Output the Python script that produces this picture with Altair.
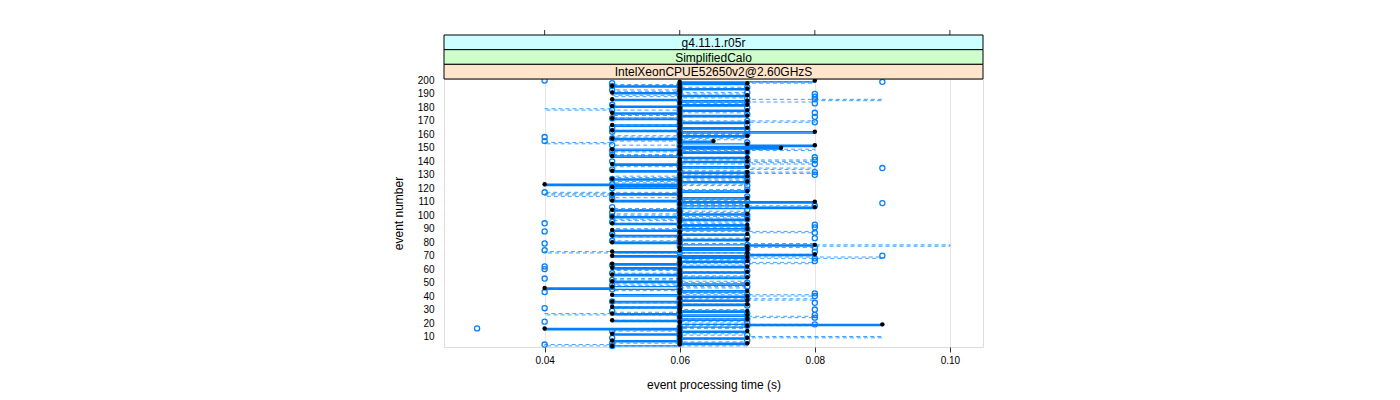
import altair as alt
import pandas as pd

# ---------------- data (times in milliseconds) ----------------
events = list(range(3, 201))

circle_ms = [
    50, 40, 50, 60, 70, 60, 50, 60, 70, 60,
    60, 50, 60, 30, 60, 70, 80, 70, 40, 60,
    70, 80, 60, 80, 70, 60, 50, 80, 40, 60,
    70, 60, 80, 50, 60, 70, 60, 80, 70, 80,
    40, 60, 50, 60, 70, 50, 60, 70, 60, 50,
    40, 60, 70, 60, 50, 60, 70, 40, 60, 40,
    50, 70, 60, 80, 70, 80, 60, 90, 70, 60,
    80, 40, 70, 80, 60, 70, 40, 60, 50, 60,
    80, 70, 60, 50, 80, 40, 60, 70, 80, 60,
    80, 40, 50, 60, 70, 60, 50, 70, 60, 50,
    60, 70, 60, 50, 80, 60, 90, 70, 60, 50,
    60, 70, 50, 60, 40, 60, 70, 50, 60, 70,
    50, 60, 70, 60, 50, 70, 60, 80, 70, 80,
    60, 50, 90, 60, 70, 80, 60, 50, 80, 70,
    80, 60, 50, 60, 70, 50, 60, 70, 60, 50,
    60, 70, 40, 60, 50, 40, 60, 70, 60, 50,
    60, 70, 50, 60, 70, 60, 80, 70, 60, 50,
    80, 60, 70, 80, 60, 50, 60, 70, 60, 50,
    80, 70, 60, 80, 70, 80, 60, 80, 70, 60,
    50, 60, 70, 50, 60, 50, 90, 40,
]

dashed_ms = [
    70, 40, 50, 70, 60, 60, 70, 90, 70, 60,
    70, 60, 50, 60, 70, 60, 80, 60, 70, 50,
    60, 70, 80, 60, 40, 50, 60, 70, 60, 50,
    60, 70, 60, 50, 60, 80, 60, 70, 80, 60,
    70, 60, 50, 60, 70, 60, 50, 60, 70, 60,
    50, 60, 70, 60, 50, 70, 60, 50, 60, 60,
    70, 60, 80, 70, 60, 70, 90, 60, 80, 70,
    40, 60, 70, 60, 80, 100, 80, 60, 50, 60,
    70, 60, 50, 60, 70, 80, 60, 50, 60, 70,
    60, 50, 70, 60, 50, 60, 70, 60, 50, 60,
    70, 60, 50, 60, 80, 60, 70, 60, 50, 70,
    60, 50, 40, 50, 40, 60, 70, 60, 50, 60,
    70, 60, 50, 60, 70, 60, 50, 70, 60, 80,
    60, 70, 80, 60, 50, 60, 80, 70, 80, 60,
    70, 60, 50, 60, 70, 50, 80, 60, 70, 60,
    50, 40, 50, 60, 70, 60, 50, 60, 70, 60,
    50, 60, 70, 60, 50, 60, 70, 80, 60, 50,
    60, 70, 50, 60, 70, 60, 40, 50, 60, 70,
    70, 60, 80, 90, 70, 60, 50, 60, 70, 60,
    50, 60, 70, 60, 50, 60, 80, 70,
]

black_ms = [
    50, 60, 70, 60, 50, 60, 70, 60, 60, 50,
    60, 70, 60, 40, 60, 70, 90, 60, 60, 50,
    70, 60, 60, 70, 50, 60, 70, 60, 60, 50,
    60, 70, 60, 50, 70, 60, 60, 70, 50, 60,
    60, 70, 60, 40, 50, 60, 70, 60, 50, 60,
    60, 70, 60, 50, 60, 70, 60, 60, 50, 70,
    60, 50, 60, 70, 60, 60, 70, 50, 80, 70,
    50, 60, 70, 60, 70, 80, 60, 50, 60, 70,
    60, 60, 50, 70, 60, 60, 50, 70, 60, 60,
    70, 50, 60, 60, 70, 60, 50, 60, 70, 60,
    60, 50, 60, 80, 70, 60, 60, 80, 50, 60,
    70, 60, 60, 50, 60, 70, 60, 60, 50, 60,
    40, 60, 70, 60, 50, 60, 70, 60, 60, 70,
    50, 60, 60, 70, 60, 50, 60, 70, 60, 60,
    70, 50, 60, 60, 70, 60, 50, 75, 60, 80,
    70, 60, 65, 60, 50, 60, 70, 60, 60, 80,
    50, 60, 70, 60, 50, 60, 70, 60, 60, 50,
    60, 70, 60, 50, 60, 70, 60, 60, 50, 70,
    60, 60, 70, 50, 60, 60, 70, 60, 50, 60,
    60, 70, 60, 50, 60, 70, 60, 80,
]

x_ticks = [0.04, 0.06, 0.08, 0.10]
y_ticks = list(range(10, 201, 10))
strip_labels = ["g4.11.1.r05r", "SimplifiedCalo", "IntelXeonCPUE52650v2@2.60GHzS"]
strip_colors = ["#ccffff", "#ccffcc", "#ffe5cc"]

W, H = 539, 268
FONT = "Liberation Sans"
BLUE = "#0080ff"


def frame(ms):
    return pd.DataFrame({"event": events, "time": [v / 1000.0 for v in ms]})


df_circ = frame(circle_ms)
df_dash = frame(dashed_ms)
df_black = frame(black_ms)

x_enc = alt.X(
    "time:Q",
    scale=alt.Scale(domain=[0.0251, 0.1049], nice=False, zero=False),
    axis=alt.Axis(
        values=x_ticks, format=".2f", title="event processing time (s)",
        grid=True, gridColor="#e6e6e6", domain=False,
        tickColor="#333333", tickSize=5, labelPadding=3, titlePadding=14,
        labelFont=FONT, labelFontSize=10, labelColor="black",
        titleFont=FONT, titleFontSize=12, titleFontWeight="normal", titleColor="black",
    ),
)
y_enc = alt.Y(
    "event:Q",
    scale=alt.Scale(domain=[2.2, 201.1], nice=False, zero=False),
    axis=alt.Axis(
        values=y_ticks, format="d", title="event number",
        grid=False, domain=False, ticks=False, labelPadding=10, titlePadding=12,
        labelFont=FONT, labelFontSize=10, labelColor="black",
        titleFont=FONT, titleFontSize=12, titleFontWeight="normal", titleColor="black",
    ),
)
order_enc = alt.Order("event:Q")

dashed = alt.Chart(df_dash).mark_line(
    interpolate="step-after", color=BLUE, strokeWidth=1, strokeDash=[4, 3], opacity=0.75
).encode(x=x_enc, y=y_enc, order=order_enc)

solid = alt.Chart(df_black).mark_line(
    interpolate="step-after", color=BLUE, strokeWidth=1.3
).encode(x=x_enc, y=y_enc, order=order_enc)

circles = alt.Chart(df_circ).mark_point(
    shape="circle", filled=False, color=BLUE, size=26, strokeWidth=1.3, opacity=1
).encode(x=x_enc, y=y_enc)

blacks = alt.Chart(df_black).mark_circle(color="black", size=20, opacity=1).encode(x=x_enc, y=y_enc)

top_ticks = alt.Chart(pd.DataFrame({"time": x_ticks})).mark_rule(
    color="#333333", strokeWidth=1
).encode(x=x_enc, y=alt.value(-49), y2=alt.value(-44))

strip_h = 44.0 / 3
strip_layers = []
for i, (lab, col) in enumerate(zip(strip_labels, strip_colors)):
    top = -44 + i * strip_h
    d = pd.DataFrame({"label": [lab]})
    strip_layers.append(
        alt.Chart(d).mark_rect(fill=col, stroke="black", strokeWidth=1).encode(
            x=alt.value(0), x2=alt.value(W), y=alt.value(top), y2=alt.value(top + strip_h)
        )
    )
    strip_layers.append(
        alt.Chart(d).mark_text(
            align="center", baseline="middle", font=FONT, fontSize=12, color="black"
        ).encode(x=alt.value(W / 2), y=alt.value(top + strip_h / 2 + 0.5), text="label:N")
    )

chart = alt.layer(
    dashed, solid, circles, blacks, top_ticks, *strip_layers
).properties(
    width=W, height=H,
    autosize=alt.AutoSizeParams(type="none"),
    padding={"left": 436, "top": 71, "right": 409, "bottom": 45},
).configure_view(
    stroke="#555555", strokeWidth=1
).configure(background="white")

chart.save("out.html", embed_options={"renderer": "svg", "actions": False})
